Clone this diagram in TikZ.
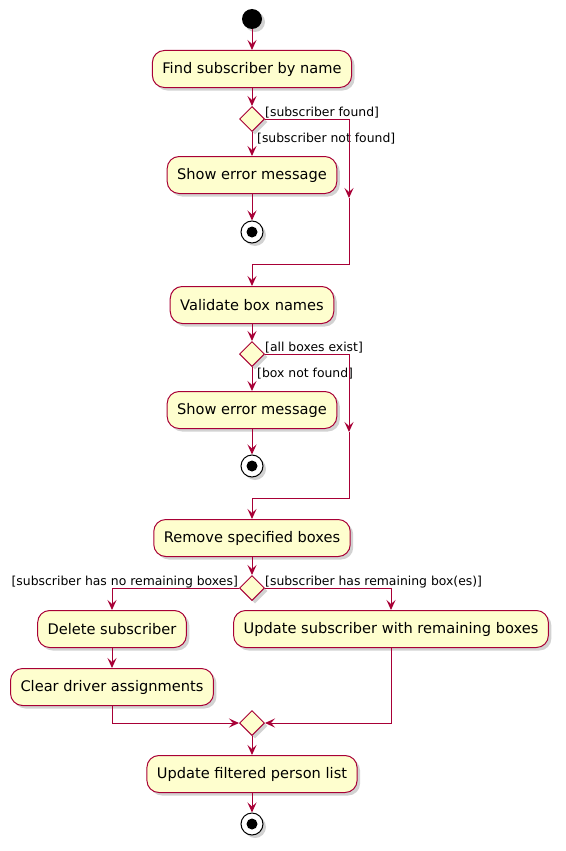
\documentclass[tikz,border=0pt]{standalone}
\usepackage{fontspec}
\setmainfont{DejaVu Sans}
\usetikzlibrary{arrows.meta,shapes.geometric,shadows}
\definecolor{umlred}{HTML}{A80036}
\definecolor{umlfill}{HTML}{FEFECE}
\tikzset{
	shade3/.style={drop shadow={shadow xshift=3pt, shadow yshift=-3pt, fill=black!35}},
	act/.style={draw=umlred, fill=umlfill, line width=1pt, rounded corners=12pt, minimum height=37pt, inner xsep=10pt, font=\fontsize{14.6}{17}\selectfont, shade3},
	cond/.style={diamond, draw=umlred, fill=umlfill, line width=1pt, minimum size=25pt, inner sep=0pt, shade3},
	startdot/.style={circle, fill=black, minimum size=20pt, inner sep=0pt, shade3},
	stopdot/.style={circle, draw=black, fill=white, line width=1pt, minimum size=22pt, inner sep=0pt, shade3, path picture={\fill[black] (path picture bounding box.center) circle (5.5pt);}},
	wire/.style={draw=umlred, line width=1pt},
	flow/.style={wire, -{Stealth[length=10pt, width=9pt, inset=4pt]}},
	guard/.style={font=\fontsize{12.4}{14}\selectfont, inner sep=0pt}
}
\begin{document}
\begin{tikzpicture}[x=1pt, y=-1pt]
		%%%%% START %%%%%
		\useasboundingbox (0, 0) rectangle (565, 851);
		
		\node[startdot] (start) at (252, 19) {};
		\node[act] (find) at (252, 69) {Find subscriber by name};
		\node[cond] (chk1) at (252, 119) {};
		\node[act] (err1) at (252, 175) {Show error message};
		\node[stopdot] (stop1) at (252, 232) {};
		\coordinate (m1) at (349, 198);
		\coordinate (j1) at (252, 264);
		\node[guard, anchor=base west] at (265, 116) {[subscriber found]};
		\node[guard, anchor=base west] at (257, 142) {[subscriber not found]};
		
		\draw[flow] (start) -- (find);
		\draw[flow] (find) -- (chk1);
		\draw[flow] (chk1) -- (err1);
		\draw[flow] (err1) -- (stop1);
		\draw[flow] (chk1.east) -| (m1);
		\draw[wire] (m1) |- (j1);
		
		\node[act] (validate) at (252, 305) {Validate box names};
		\node[cond] (chk2) at (252, 354) {};
		\node[act] (err2) at (252, 410) {Show error message};
		\node[stopdot] (stop2) at (252, 466) {};
		\coordinate (m2) at (349, 432);
		\coordinate (j2) at (252, 498);
		\node[guard, anchor=base west] at (265, 351) {[all boxes exist]};
		\node[guard, anchor=base west] at (257, 377) {[box not found]};
		
		\draw[flow] (j1) -- (validate);
		\draw[flow] (validate) -- (chk2);
		\draw[flow] (chk2) -- (err2);
		\draw[flow] (err2) -- (stop2);
		\draw[flow] (chk2.east) -| (m2);
		\draw[wire] (m2) |- (j2);
		
		\node[act] (remove) at (252, 538) {Remove specified boxes};
		\node[cond] (chk3) at (252, 588) {};
		\node[act] (delsub) at (112, 629) {Delete subscriber};
		\node[act] (clear) at (112, 687) {Clear driver assignments};
		\node[act] (updsub) at (391, 629) {Update subscriber with remaining boxes};
		\node[cond] (merge) at (252, 723) {};
		\node[guard, anchor=base east] at (238, 585) {[subscriber has no remaining boxes]};
		\node[guard, anchor=base west] at (265, 585) {[subscriber has remaining box(es)]};
		
		\draw[flow] (j2) -- (remove);
		\draw[flow] (remove) -- (chk3);
		\draw[flow] (chk3.west) -| (delsub);
		\draw[flow] (chk3.east) -| (updsub);
		\draw[flow] (delsub) -- (clear);
		\draw[flow] (clear) |- (merge.west);
		\draw[flow] (updsub) |- (merge.east);
		
		\node[act] (updlist) at (252, 774) {Update filtered person list};
		\node[stopdot] (stop3) at (252, 824) {};
		
		\draw[flow] (merge) -- (updlist);
		\draw[flow] (updlist) -- (stop3);
		
		%%%%% END %%%%%
\end{tikzpicture}
\end{document}
